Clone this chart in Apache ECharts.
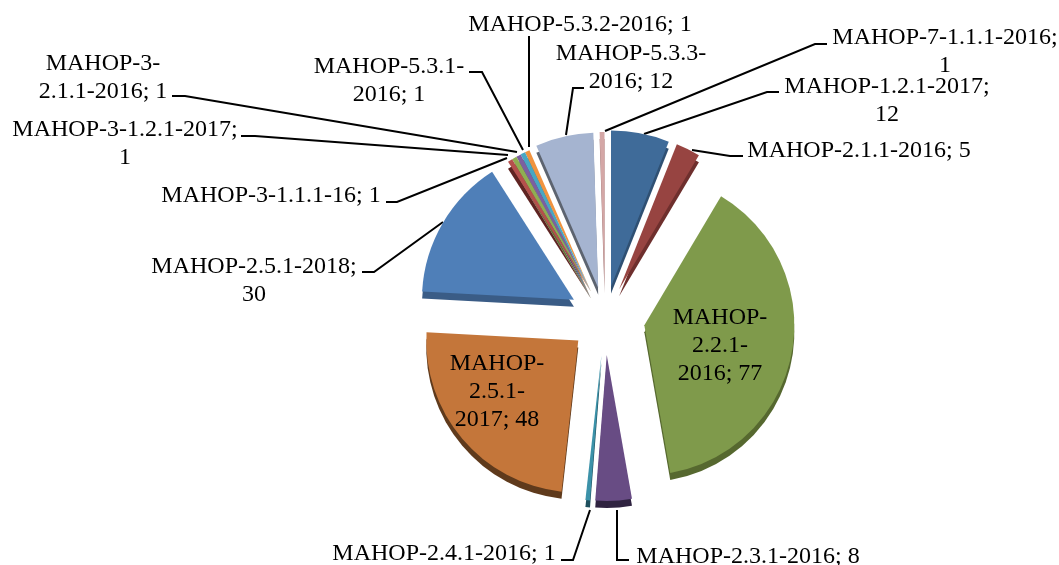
<!DOCTYPE html>
<html>
<head>
<meta charset="utf-8">
<style>
  html, body { margin: 0; padding: 0; background: #fff; }
  #chart { width: 1059px; height: 565px; }
</style>
<script src="https://cdn.jsdelivr.net/npm/echarts@6/dist/echarts.min.js"></script>
</head>
<body>
<div id="chart"></div>
<script>
var categories = [
  'MAHOP-1.2.1-2017', 'MAHOP-2.1.1-2016', 'MAHOP-2.2.1-2016', 'MAHOP-2.3.1-2016',
  'MAHOP-2.4.1-2016', 'MAHOP-2.5.1-2017', 'MAHOP-2.5.1-2018', 'MAHOP-3-1.1.1-16',
  'MAHOP-3-1.2.1-2017', 'MAHOP-3-2.1.1-2016', 'MAHOP-5.3.1-2016', 'MAHOP-5.3.2-2016',
  'MAHOP-5.3.3-2016', 'MAHOP-7-1.1.1-2016'
]
var values = [12, 5, 77, 8, 1, 48, 30, 1, 1, 1, 1, 1, 12, 1]
var labelTexts = [
  'MAHOP-1.2.1-2017;\n12', 'MAHOP-2.1.1-2016; 5', 'MAHOP-\n2.2.1-\n2016; 77', 'MAHOP-2.3.1-2016; 8',
  'MAHOP-2.4.1-2016; 1', 'MAHOP-\n2.5.1-\n2017; 48', 'MAHOP-2.5.1-2018;\n30', 'MAHOP-3-1.1.1-16; 1',
  'MAHOP-3-1.2.1-2017;\n1', 'MAHOP-3-\n2.1.1-2016; 1', 'MAHOP-5.3.1-\n2016; 1', 'MAHOP-5.3.2-2016; 1',
  'MAHOP-5.3.3-\n2016; 12', 'MAHOP-7-1.1.1-2016;\n1'
]

// how far each slice is pulled out of the pie, and the size it ends up at
var explode = [32, 32, 40, 37, 37, 35, 36, 30, 30, 30, 30, 30, 31, 31]
var radii = [156, 156, 150, 146, 146, 152, 152, 154, 154, 154, 154, 154, 155, 155]
// these stay side by side, they move out along the direction of this slice
var joinedSlices = [7, 8, 9, 10, 11]
var joinedDirection = 9

var colors = ['#3f6b99', '#974441', '#7f9a4b', '#684c84', '#3c92a9', '#c4763a', '#4f7fb8',
  '#b5504c', '#8fae52', '#7c5fa0', '#48a7c4', '#f0933f', '#a5b4d0', '#d4a7a6']
var sideColors = ['#2f5073', '#6e2f2d', '#56682f', '#2f2340', '#1f505e', '#5f3a1c', '#3a5c86',
  '#5f2422', '#5f7636', '#54406d', '#2f7288', '#a8662b', '#5d6470', '#9a7473']

// label centre and leader line, in page pixels
var labelPos = [
  [887, 101], [859, 151], [720, 346], [748, 557], [444, 554], [497, 392], [254, 281],
  [271, 196], [125, 144], [103, 78], [389, 81], [580, 25], [631, 68], [945, 52]
]
var leaders = [
  [[644, 134], [767, 92], [779, 92]],
  [[692, 150], [730, 156], [743, 156]],
  null,
  [[617, 510], [617, 560], [629, 560]],
  [[590, 510], [573, 560], [561, 560]],
  null,
  [[443, 222], [374, 272], [362, 272]],
  [[507, 158], [397, 202], [386, 202]],
  [[508, 155], [255, 136], [241, 136]],
  [[517, 152], [185, 96], [172, 96]],
  [[523, 150], [482, 72], [469, 72]],
  [[529, 147], [529, 36]],
  [[566, 135], [573, 88], [584, 88]],
  [[605, 131], [815, 44], [827, 44]]
]

var pieX = 605
var pieY = 318
var total = values.reduce(function(a, b) { return a + b }, 0)

// pie centre moved along the middle of slice idx
function sliceCenter(idx) {
  var dirIdx = joinedSlices.indexOf(idx) >= 0 ? joinedDirection : idx
  var before = 0
  for (var k = 0; k < dirIdx; k++) {
    before += values[k]
  }
  var mid = (before + values[dirIdx] / 2) / total * Math.PI * 2
  return [pieX + Math.sin(mid) * explode[idx], pieY - Math.cos(mid) * explode[idx]]
}

function sliceSeries(idx) {
  return {
    name: categories[idx],
    type: 'pie',
    center: sliceCenter(idx),
    radius: [0, radii[idx]],
    startAngle: 90,
    silent: true,
    animation: false,
    avoidLabelOverlap: false,
    label: {
      show: true,
      position: 'outside',
      color: '#000',
      fontFamily: 'Liberation Serif',
      fontSize: 24,
      lineHeight: 28,
      align: 'center',
      formatter: function(params) {
        return labelTexts[params.dataIndex]
      }
    },
    labelLine: {
      show: true,
      showAbove: true,
      smooth: false,
      lineStyle: { color: '#000', width: 2 }
    },
    labelLayout: function() {
      var out = {
        x: labelPos[idx][0],
        y: labelPos[idx][1],
        align: 'center',
        verticalAlign: 'middle'
      }
      if (leaders[idx]) {
        out.labelLinePoints = leaders[idx]
      }
      return out
    },
    data: values.map(function(v, i) {
      if (i !== idx) {
        return {
          value: v,
          name: categories[i],
          itemStyle: { color: 'transparent' },
          label: { show: false },
          labelLine: { show: false }
        }
      }
      return {
        value: v,
        name: categories[i],
        itemStyle: {
          color: colors[i],
          shadowColor: sideColors[i],
          shadowBlur: 0,
          shadowOffsetX: 0,
          shadowOffsetY: 7
        },
        labelLine: { show: !!leaders[i] }
      }
    })
  }
}

var chart = echarts.init(document.getElementById('chart'), null, { renderer: 'canvas' })
var seriesList = []
// later slices first, so an earlier slice's side sits on top of nothing it should hide
for (var i = values.length - 1; i >= 0; i--) {
  seriesList.push(sliceSeries(i))
}
chart.setOption({
  backgroundColor: '#fff',
  animation: false,
  series: seriesList
})
</script>
</body>
</html>
